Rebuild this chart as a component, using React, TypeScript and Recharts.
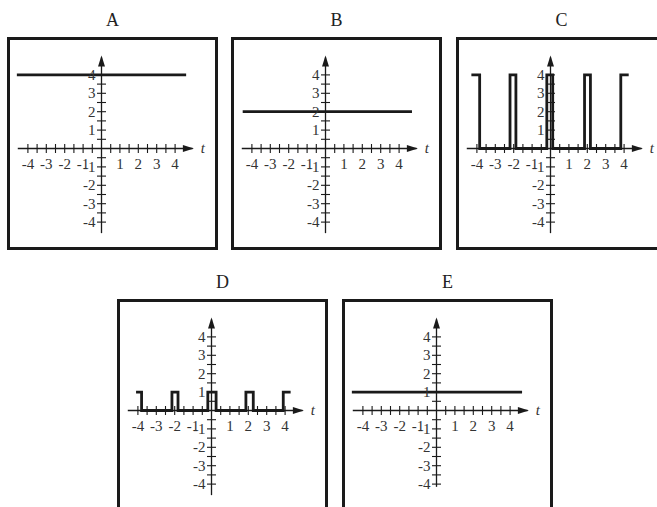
import { Line, LineChart, ReferenceDot, ReferenceLine, XAxis, YAxis } from "recharts"

type Pt = { t: number; v: number }

// panel names, tick positions and axis numbers
const panelNames = ["A", "B", "C", "D", "E"]
const halfTicks = [-4, -3.5, -3, -2.5, -2, -1.5, -1, -0.5, 0.5, 1, 1.5, 2, 2.5, 3, 3.5, 4]
const numberLabels = [-4, -3, -2, -1, 1, 2, 3, 4]
const axisBottoms = [-4.6, -4.6, -4.6, -4.6, -4.15]

// the five signals
const signalA: Pt[] = [
  { t: -4.6, v: 4 },
  { t: 4.6, v: 4 },
]
const signalB: Pt[] = [
  { t: -4.5, v: 2 },
  { t: 4.7, v: 2 },
]
const signalC: Pt[] = [
  { t: -4.3, v: 4 }, { t: -3.85, v: 4 }, { t: -3.85, v: 0 },
  { t: -2.2, v: 0 }, { t: -2.2, v: 4 }, { t: -1.88, v: 4 }, { t: -1.88, v: 0 },
  { t: -0.2, v: 0 }, { t: -0.2, v: 4 }, { t: 0.12, v: 4 }, { t: 0.12, v: 0 },
  { t: 1.85, v: 0 }, { t: 1.85, v: 4 }, { t: 2.17, v: 4 }, { t: 2.17, v: 0 },
  { t: 3.82, v: 0 }, { t: 3.82, v: 4 }, { t: 4.25, v: 4 },
]
const signalD: Pt[] = [
  { t: -4.1, v: 1 }, { t: -3.8, v: 1 }, { t: -3.8, v: 0 },
  { t: -2.15, v: 0 }, { t: -2.15, v: 1 }, { t: -1.82, v: 1 }, { t: -1.82, v: 0 },
  { t: -0.2, v: 0 }, { t: -0.2, v: 1 }, { t: 0.25, v: 1 }, { t: 0.25, v: 0 },
  { t: 1.87, v: 0 }, { t: 1.87, v: 1 }, { t: 2.27, v: 1 }, { t: 2.27, v: 0 },
  { t: 3.9, v: 0 }, { t: 3.9, v: 1 }, { t: 4.3, v: 1 },
]
const signalE: Pt[] = [
  { t: -4.6, v: 1 },
  { t: 4.65, v: 1 },
]
const signals = [signalA, signalB, signalC, signalD, signalE]

// layout
const W = 211
const H = 213
const OX = 94.5
const OY = 111.5
const U = 18.4
const TICK = 4.5 / U
const panelPos = [
  { left: 7, top: 37 },
  { left: 231, top: 37 },
  { left: 456, top: 37 },
  { left: 117, top: 299 },
  { left: 342, top: 299 },
]

const ink = "#1a1a1a"
const labelInk = "#333"
const font = "'Liberation Serif', 'Times New Roman', serif"

function Panel({ idx }: { idx: number }) {
  const pos = panelPos[idx]
  const bottom = axisBottoms[idx]
  return (
    <>
      <div
        style={{
          position: "absolute",
          left: pos.left,
          top: pos.top - 27,
          width: W,
          height: 20,
          lineHeight: "20px",
          textAlign: "center",
          fontFamily: font,
          fontSize: 18,
          color: "#222",
        }}
      >
        {panelNames[idx]}
      </div>
      <div style={{ position: "absolute", left: pos.left, top: pos.top, width: W, height: H }}>
        <LineChart width={W} height={H} data={signals[idx]} margin={{ top: 0, right: 0, bottom: 0, left: 0 }}>
          <XAxis type="number" dataKey="t" domain={[-OX / U, (W - OX) / U]} allowDataOverflow hide />
          <YAxis type="number" dataKey="v" domain={[-(H - OY) / U, OY / U]} allowDataOverflow hide />
          {/* axes */}
          <ReferenceLine segment={[{ x: -4.55, y: 0 }, { x: 4.95, y: 0 }]} stroke={ink} strokeWidth={1.3} />
          <ReferenceLine segment={[{ x: 0, y: bottom }, { x: 0, y: 4.95 }]} stroke={ink} strokeWidth={1.3} />
          {halfTicks.map((v) => (
            <ReferenceLine key={`xt${v}`} segment={[{ x: v, y: -TICK }, { x: v, y: TICK }]} stroke={ink} strokeWidth={1.1} />
          ))}
          {halfTicks.map((v) => (
            <ReferenceLine key={`yt${v}`} segment={[{ x: -TICK, y: v }, { x: TICK, y: v }]} stroke={ink} strokeWidth={1.1} />
          ))}
          <ReferenceDot
            x={5.02}
            y={0}
            r={0}
            shape={(p: any) => (
              <path d={`M${p.cx},${p.cy} L${p.cx - 11},${p.cy - 3.5} L${p.cx - 11},${p.cy + 3.5} Z`} fill={ink} />
            )}
          />
          <ReferenceDot
            x={0}
            y={5.05}
            r={0}
            shape={(p: any) => (
              <path d={`M${p.cx},${p.cy} L${p.cx - 3.5},${p.cy + 11} L${p.cx + 3.5},${p.cy + 11} Z`} fill={ink} />
            )}
          />
          <ReferenceDot
            x={5.4}
            y={0}
            r={0}
            shape={(p: any) => (
              <text x={p.cx} y={p.cy + 4.5} fontFamily={font} fontStyle="italic" fontSize={15} fill={labelInk}>
                t
              </text>
            )}
          />
          {numberLabels.map((n) => (
            <ReferenceDot
              key={`xl${n}`}
              x={n}
              y={0}
              r={0}
              shape={(p: any) => (
                <text x={p.cx} y={p.cy + 20} textAnchor="middle" fontFamily={font} fontSize={15} fill={labelInk}>
                  {n}
                </text>
              )}
            />
          ))}
          {numberLabels.map((n) => (
            <ReferenceDot
              key={`yl${n}`}
              x={0}
              y={n}
              r={0}
              shape={(p: any) => (
                <text x={p.cx - 6} y={p.cy + 5} textAnchor="end" fontFamily={font} fontSize={15} fill={labelInk}>
                  {n}
                </text>
              )}
            />
          ))}
          <Line type="linear" dataKey="v" stroke={ink} strokeWidth={2.8} dot={false} isAnimationActive={false} />
        </LineChart>
        <div
          style={{
            position: "absolute",
            inset: 0,
            border: `3px solid ${ink}`,
            boxSizing: "border-box",
            pointerEvents: "none",
          }}
        />
      </div>
    </>
  )
}

export default function App() {
  return (
    <div
      style={{
        position: "absolute",
        left: 0,
        top: 0,
        width: 657,
        height: 507,
        overflow: "hidden",
        background: "#fff",
      }}
    >
      {panelNames.map((_, i) => (
        <Panel key={i} idx={i} />
      ))}
    </div>
  )
}
